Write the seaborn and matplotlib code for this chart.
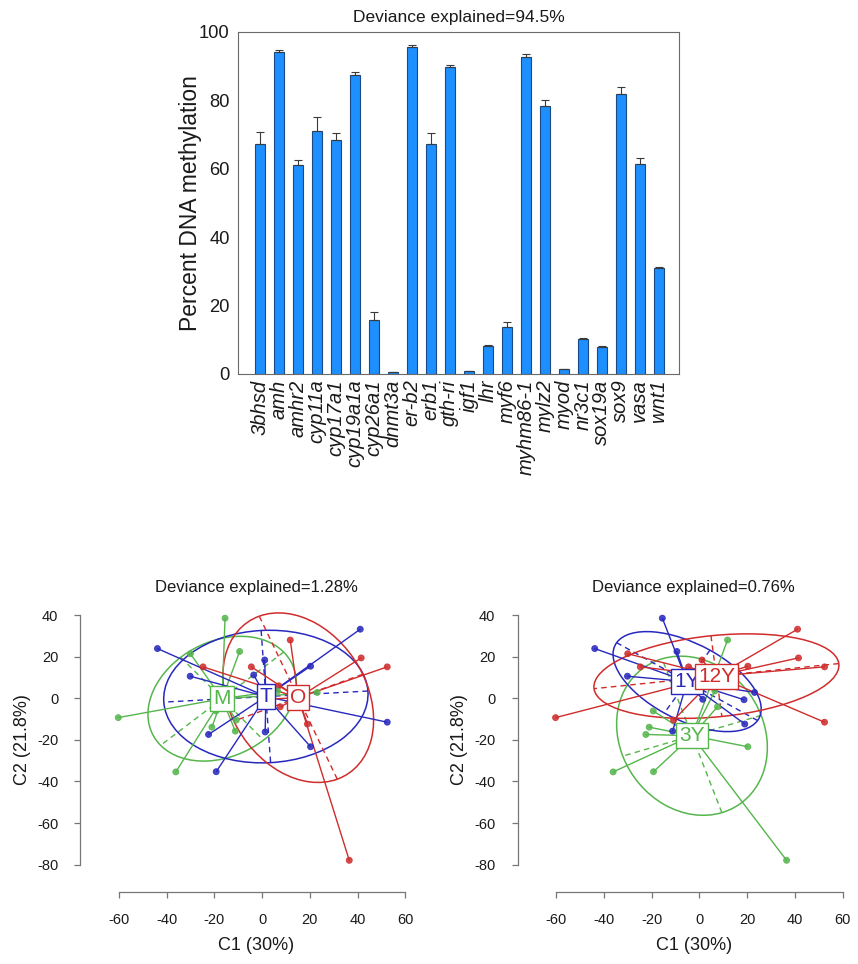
import numpy as np
import pandas as pd
import matplotlib
matplotlib.use("Agg")
import matplotlib.pyplot as plt
import seaborn as sns
from matplotlib.patches import Ellipse

# ---------------- data ----------------
genes = ["3bhsd", "amh", "amhr2", "cyp11a", "cyp17a1", "cyp19a1a", "cyp26a1",
         "dnmt3a", "er-b2", "erb1", "gth-ri", "igf1", "lhr", "myf6", "myhm86-1",
         "mylz2", "myod", "nr3c1", "sox19a", "sox9", "vasa", "wnt1"]
methylation = [67.2, 94.2, 61.1, 71.1, 68.4, 87.5, 15.8, 0.5, 95.7, 67.2, 89.7,
               0.9, 8.2, 13.8, 92.7, 78.4, 1.4, 10.3, 7.9, 82.0, 61.3, 31.0]
meth_se = [3.5, 0.5, 1.4, 3.9, 2.0, 0.8, 2.3, 0.1, 0.4, 3.4, 0.7,
           0.1, 0.2, 1.5, 0.8, 1.7, 0.2, 0.3, 0.2, 1.9, 2.0, 0.2]

c1 = [-60.2, -15.5, -30.0, -9.4, -36.1, -21.0, -11.2, -43.8, 41.1, 52.4, -30.1,
      -22.4, -19.2, 20.3, 1.1, -3.5, 1.3, 20.3, -24.7, 36.5, 11.8, 41.5,
      52.4, -4.5, 19.0, 7.0, 7.6, 1.4, 18.7, 23.1, -19.3, -10.8, 6.5]
c2 = [-9.3, 38.5, 21.4, 22.5, -35.4, -13.9, -15.8, 23.9, 33.2, -11.5, 10.6,
      -17.4, -35.3, 15.4, 18.4, 11.2, -16.2, -23.3, 15.1, -77.9, 28.0, 19.4,
      15.1, 15.1, -12.4, 6.0, -4.1, -0.5, -0.7, 2.8, -6.1, -10.5, 3.5]
sex_group = ["M"] * 7 + ["T"] * 11 + ["O"] * 11 + ["M"] * 4
age_group = ["12Y", "1Y", "12Y", "1Y", "3Y", "3Y", "1Y", "1Y", "12Y", "12Y", "1Y",
             "3Y", "3Y", "12Y", "12Y", "1Y", "3Y", "3Y", "12Y", "3Y", "3Y", "12Y",
             "12Y", "12Y", "1Y", "12Y", "3Y", "1Y", "1Y", "1Y", "3Y", "12Y", "3Y"]
sex_order = ["M", "T", "O"]
age_order = ["3Y", "1Y", "12Y"]
sex_title = "Deviance explained=1.28%"
age_title = "Deviance explained=0.76%"
bar_title = "Deviance explained=94.5%"

GREEN, BLUE, RED = "#55B64C", "#2828BE", "#D02C2C"
sex_pal = {"M": GREEN, "T": BLUE, "O": RED}
age_pal = {"3Y": GREEN, "1Y": BLUE, "12Y": RED}

# ---------------- style ----------------
sns.set_theme(style="white")
plt.rcParams["font.family"] = ["Liberation Sans", "DejaVu Sans"]
plt.rcParams["axes.unicode_minus"] = False
plt.rcParams["text.color"] = "#1a1a1a"
plt.rcParams["axes.labelcolor"] = "#1a1a1a"
plt.rcParams["xtick.color"] = "#1a1a1a"
plt.rcParams["ytick.color"] = "#1a1a1a"

W, H = 858, 964
fig = plt.figure(figsize=(W / 100, H / 100), dpi=100)
fig.patch.set_facecolor("white")


def px_axes(left, top, right, bottom):
    return fig.add_axes([left / W, 1 - bottom / H, (right - left) / W, (bottom - top) / H])


# ---------------- bar chart ----------------
ax = px_axes(238, 32, 679, 374)
df_bar = pd.DataFrame({"gene": genes, "meth": methylation, "se": meth_se})
sns.barplot(data=df_bar, x="gene", y="meth", color="#1E8FFF", saturation=1,
            width=0.53, edgecolor="#1a4a86", linewidth=0.8, errorbar=None, ax=ax,
            zorder=2)
xpos = np.arange(len(genes))
ax.errorbar(xpos, df_bar["meth"], yerr=[np.zeros(len(genes)), df_bar["se"]],
            fmt="none", ecolor="#3a3a3a", elinewidth=0.8, capsize=3, capthick=0.8,
            zorder=3)
ax.set_xlim(-1.15, 22.07)
ax.set_ylim(0, 100)
ax.set_yticks(range(0, 101, 20))
ax.tick_params(axis="y", labelsize=13.2, length=0, pad=6)
ax.tick_params(axis="x", length=0, pad=4)
ax.set_xticks(xpos)
ax.set_xticklabels(genes, rotation=90, fontstyle="italic", fontsize=14.5, va="top")
ax.set_xlabel("")
ax.set_ylabel("Percent DNA methylation", fontsize=16.5, labelpad=-2)
ax.set_title(bar_title, fontsize=12.5, pad=7.5)
for s in ax.spines.values():
    s.set_color("#6a6a6a")
    s.set_linewidth(0.8)


# ---------------- ordination panels ----------------
def panel(ax, groups, order, pal, title):
    df = pd.DataFrame({"C1": c1, "C2": c2, "g": groups})
    cents = {}
    for z, g in enumerate(order):
        sub = df[df["g"] == g]
        col = pal[g]
        cx, cy = sub["C1"].mean(), sub["C2"].mean()
        cents[g] = (cx, cy)
        cov = np.cov(sub["C1"], sub["C2"], bias=True)
        vals, vecs = np.linalg.eigh(cov)
        a, b = 1.5 * np.sqrt(vals[1]), 1.5 * np.sqrt(vals[0])
        ang = np.degrees(np.arctan2(vecs[1, 1], vecs[0, 1]))
        ax.add_patch(Ellipse((cx, cy), 2 * a, 2 * b, angle=ang, fill=False,
                             ec=col, lw=1.1, zorder=2, clip_on=False))
        for k, r in ((1, a), (0, b)):
            v = vecs[:, k] * r
            ax.plot([cx - v[0], cx + v[0]], [cy - v[1], cy + v[1]],
                    ls=(0, (4, 3)), color=col, lw=1.0, zorder=2)
        for x, y in zip(sub["C1"], sub["C2"]):
            ax.plot([cx, x], [cy, y], color=col, lw=1.0, zorder=3)
    sns.scatterplot(data=df, x="C1", y="C2", hue="g", palette=pal, s=18,
                    linewidth=0.7, legend=False, ax=ax, zorder=4)
    ax.collections[-1].set_edgecolors([pal[g] for g in df["g"]])
    ax.collections[-1].set_alpha(0.85)
    for z, g in enumerate(order):
        cx, cy = cents[g]
        ax.text(cx, cy, g, color=pal[g], fontsize=15, ha="center", va="center",
                zorder=5 + z,
                bbox=dict(boxstyle="square,pad=0.14", fc="white", ec=pal[g], lw=1.0))
    ax.set_xlim(-64.7, 56.9)
    ax.set_ylim(-82.6, 43.2)
    ax.set_xticks(range(-60, 61, 20))
    ax.set_yticks(range(-80, 41, 20))
    for side in ("top", "right"):
        ax.spines[side].set_visible(False)
    ax.spines["left"].set_position(("outward", 19.5))
    ax.spines["bottom"].set_position(("outward", 16))
    ax.spines["left"].set_bounds(-80, 40)
    ax.spines["bottom"].set_bounds(-60, 60)
    for side in ("left", "bottom"):
        ax.spines[side].set_color("#777777")
        ax.spines[side].set_linewidth(0.9)
    ax.tick_params(axis="both", direction="out", length=4, width=0.9,
                   color="#777777", labelsize=10.5, left=True, bottom=True)
    ax.tick_params(axis="y", pad=12)
    ax.tick_params(axis="x", pad=11)
    ax.set_xlabel("C1 (30%)", fontsize=13)
    ax.set_ylabel("C2 (21.8%)", fontsize=13)
    ax.xaxis.set_label_coords(0.5, -0.255)
    ax.yaxis.set_label_coords(-0.258, 0.5)
    ax.set_title(title, fontsize=12, pad=12)


ax2 = px_axes(107.5, 608.4, 405.4, 870.1)
panel(ax2, sex_group, sex_order, sex_pal, sex_title)
ax3 = px_axes(544.8, 608.4, 842.7, 870.1)
panel(ax3, age_group, age_order, age_pal, age_title)

fig.savefig("out.png", dpi=100, facecolor="white")
